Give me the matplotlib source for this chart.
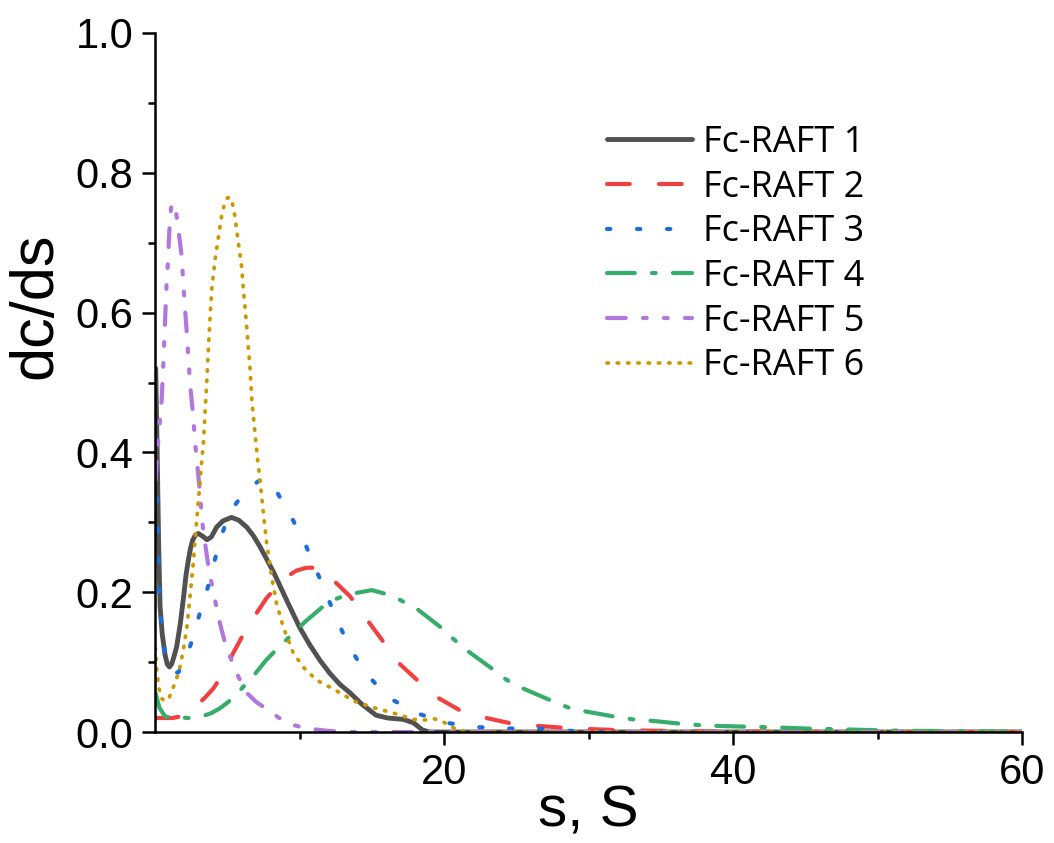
import numpy as np
import matplotlib
matplotlib.use('Agg')
import matplotlib.pyplot as plt

# ---- data (s in S, dc/ds) ----
labels = ['Fc-RAFT 1', 'Fc-RAFT 2', 'Fc-RAFT 3', 'Fc-RAFT 4', 'Fc-RAFT 5', 'Fc-RAFT 6']

s1 = [0.05, 0.15, 0.25, 0.35, 0.5, 0.7, 0.85, 1.0, 1.15, 1.3, 1.5, 1.75, 1.96, 2.15, 2.3, 2.45,
      2.6, 2.8, 3.0, 3.3, 3.6, 3.9, 4.26, 4.7, 5.3, 5.8, 6.35, 6.8, 7.27, 8.2, 9.1, 10.0, 10.7,
      11.4, 12.1, 12.8, 13.5, 14.3, 15.3, 16.1, 17.2, 17.9, 18.5, 19.0, 25, 40, 60]
c1 = [0.52, 0.40, 0.27, 0.18, 0.14, 0.11, 0.097, 0.093, 0.097, 0.107, 0.122, 0.155, 0.19, 0.225,
      0.245, 0.262, 0.274, 0.282, 0.284, 0.28, 0.275, 0.279, 0.293, 0.302, 0.307, 0.303, 0.293,
      0.281, 0.265, 0.229, 0.189, 0.15, 0.125, 0.103, 0.084, 0.068, 0.056, 0.04, 0.024, 0.02,
      0.018, 0.013, 0.003, 0.0, 0.0, 0.0, 0.0]

s2 = [0.05, 0.6, 1.2, 1.7, 2.2, 2.77, 3.4, 4.03, 4.6, 5.07, 5.65, 6.2, 6.8, 7.7, 8.4, 9.1, 9.8,
      10.5, 11.2, 11.8, 12.4, 13.5, 14.77, 15.7, 16.8, 18.0, 19.5, 21.1, 22.95, 24.7, 26.6,
      28.3, 30.3, 31.7, 34, 37, 40, 50, 60]
c2 = [0.02, 0.02, 0.02, 0.022, 0.027, 0.036, 0.048, 0.062, 0.08, 0.1, 0.122, 0.143, 0.163, 0.191,
      0.208, 0.222, 0.231, 0.235, 0.235, 0.229, 0.216, 0.194, 0.158, 0.132, 0.1, 0.077, 0.05,
      0.031, 0.02, 0.012, 0.0086, 0.006, 0.004, 0.003, 0.002, 0.001, 0.0005, 0.0, 0.0]

s3 = [0.05, 0.12, 0.2, 0.3, 0.45, 0.7, 1.0, 1.3, 1.6, 1.9, 2.2, 2.5, 2.8, 3.1, 3.4, 3.7, 4.0,
      4.26, 4.55, 4.85, 5.3, 5.9, 6.4, 6.9, 7.4, 7.9, 8.4, 9.0, 9.5, 10.0, 10.5, 10.9, 11.4,
      11.8, 12.6, 13.5, 14.6, 16.1, 18.1, 20.2, 22.3, 24.3, 26.6, 28.5, 30, 40, 60]
c3 = [0.42, 0.36, 0.29, 0.2, 0.15, 0.11, 0.093, 0.085, 0.085, 0.095, 0.11, 0.127, 0.147, 0.17,
      0.19, 0.21, 0.235, 0.256, 0.277, 0.296, 0.318, 0.335, 0.345, 0.355, 0.362, 0.36, 0.345,
      0.322, 0.305, 0.285, 0.264, 0.243, 0.22, 0.2, 0.16, 0.12, 0.084, 0.05, 0.027, 0.013,
      0.007, 0.005, 0.005, 0.002, 0.0, 0.0, 0.0]

s4 = [0.05, 0.3, 0.7, 1.4, 2.4, 3.2, 3.9, 4.5, 5.07, 5.9, 6.8, 7.7, 8.5, 9.3, 10.4, 11.6, 12.6,
      13.4, 14.2, 15.0, 15.9, 16.96, 18.2, 19.7, 20.6, 21.7, 23.3, 24.3, 25.5, 27.3, 28.6,
      29.9, 31.8, 33.1, 34.4, 36.3, 37.6, 39, 41, 43, 45, 48, 51, 55, 60]
c4 = [0.055, 0.035, 0.022, 0.021, 0.02, 0.022, 0.027, 0.034, 0.043, 0.06, 0.08, 0.103, 0.12,
      0.136, 0.158, 0.179, 0.191, 0.197, 0.2, 0.203, 0.198, 0.189, 0.175, 0.151, 0.134, 0.115,
      0.091, 0.075, 0.062, 0.046, 0.035, 0.029, 0.022, 0.018, 0.016, 0.012, 0.01, 0.0086,
      0.0076, 0.0065, 0.005, 0.0035, 0.002, 0.001, 0.0005]

s5 = [0.03, 0.23, 0.46, 0.58, 0.7, 0.8, 0.9, 1.04, 1.15, 1.27, 1.4, 1.6, 1.85, 1.96, 2.2, 2.42,
      2.65, 2.77, 3.11, 3.27, 3.5, 3.73, 4.15, 4.5, 4.89, 5.65, 6.35, 7.0, 7.65, 8.6, 9.57,
      10.5, 11.8, 13.0, 20, 60]
c5 = [0.36, 0.418, 0.475, 0.528, 0.59, 0.64, 0.675, 0.737, 0.755, 0.757, 0.752, 0.722, 0.68,
      0.64, 0.571, 0.5, 0.45, 0.415, 0.343, 0.3, 0.265, 0.232, 0.189, 0.155, 0.124, 0.084,
      0.056, 0.043, 0.034, 0.02, 0.01, 0.005, 0.002, 0.0, 0.0, 0.0]

s6 = [0.03, 0.12, 0.25, 0.45, 0.7, 1.0, 1.25, 1.5, 1.73, 1.96, 2.2, 2.42, 2.65, 2.77, 3.0, 3.2,
      3.35, 3.46, 3.58, 3.69, 3.8, 3.92, 4.15, 4.38, 4.6, 4.8, 5.0, 5.2, 5.35, 5.5, 5.77, 6.0,
      6.1, 6.23, 6.4, 6.57, 6.7, 6.9, 7.1, 7.27, 7.5, 7.73, 8.07, 8.4, 8.88, 9.57, 10.3, 11.2,
      12.3, 13.8, 15.1, 16.5, 17.9, 18.6, 19.3, 19.9, 20.5, 21.0, 22, 30, 60]
c6 = [0.12, 0.09, 0.065, 0.048, 0.044, 0.05, 0.063, 0.077, 0.093, 0.117, 0.149, 0.193, 0.242,
      0.275, 0.33, 0.38, 0.413, 0.456, 0.5, 0.546, 0.589, 0.632, 0.675, 0.707, 0.737, 0.755,
      0.764, 0.765, 0.757, 0.742, 0.7, 0.665, 0.637, 0.608, 0.565, 0.522, 0.475, 0.432, 0.39,
      0.36, 0.313, 0.27, 0.222, 0.185, 0.15, 0.113, 0.092, 0.074, 0.062, 0.044, 0.035, 0.027,
      0.018, 0.017, 0.019, 0.015, 0.008, 0.002, 0.0, 0.0, 0.0]

xs = [s1, s2, s3, s4, s5, s6]
ys = [c1, c2, c3, c4, c5, c6]

colors = ['#515151', '#F14040', '#1A6FDF', '#37AD6B', '#B177DE', '#CC9900']
styles = ['-', (0, (16.4, 21.0)), (0, (2.4, 19.2)), (0, (20.0, 12.4, 2.7, 12.4)),
          (0, (13.5, 12.4, 2.7, 12.4, 2.7, 12.4)), (0, (1.0, 6.4))]
widths = [3.5, 3.0, 3.0, 3.0, 3.0, 2.7]

plt.rcParams['font.family'] = ['Liberation Sans', 'DejaVu Sans']
plt.rcParams['lines.scale_dashes'] = False

fig = plt.figure(figsize=(10.54, 8.43), dpi=100)
ax = fig.add_axes([155 / 1054, 1 - 732 / 843, 867 / 1054, 699 / 843])

for x, y, col, ls, lw, lab in zip(xs, ys, colors, styles, widths, labels):
    ax.plot(x, y, color=col, linestyle=ls, linewidth=lw, label=lab,
            dash_capstyle='round', solid_capstyle='round', solid_joinstyle='round')

ax.set_xlim(0, 60)
ax.set_ylim(0, 1.0)
ax.set_xticks([20, 40, 60])
ax.set_xticks([10, 30, 50], minor=True)
ax.set_yticks([0.0, 0.2, 0.4, 0.6, 0.8, 1.0])
ax.set_yticks([0.1, 0.3, 0.5, 0.7, 0.9], minor=True)
ax.set_yticklabels(['0.0', '0.2', '0.4', '0.6', '0.8', '1.0'])

for side in ['top', 'right']:
    ax.spines[side].set_visible(False)
for side in ['left', 'bottom']:
    ax.spines[side].set_linewidth(1.8)

ax.tick_params(which='major', direction='out', length=9.4, width=1.8, labelsize=30)
ax.tick_params(which='minor', direction='out', length=5, width=1.8)
ax.tick_params(axis='x', which='major', pad=6)
ax.tick_params(axis='y', which='major', pad=6)

ax.set_xlabel('s, S', fontsize=42, va='top')
ax.xaxis.set_label_coords(0.5, -0.075)
ax.set_ylabel('dc/ds', fontsize=44, va='center')
ax.yaxis.set_label_coords(-0.137, 0.61)

leg = ax.legend(loc='upper left', bbox_to_anchor=(607 / 1054, 1 - 125 / 843),
                bbox_transform=fig.transFigure, frameon=False,
                prop={'family': 'Open Sans', 'size': 26},
                handlelength=2.36, handletextpad=0.3, labelspacing=0.24,
                borderpad=0, borderaxespad=0)

fig.savefig('out.png', dpi=100)
